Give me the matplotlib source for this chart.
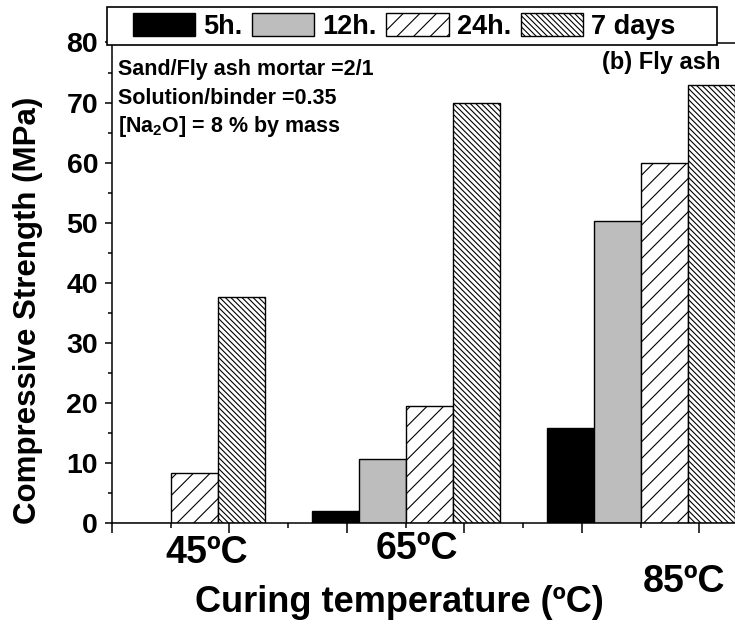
import numpy as np
import matplotlib.pyplot as plt
from matplotlib.patches import Rectangle
from matplotlib.transforms import blended_transform_factory

temps = ["45ºC", "65ºC", "85ºC"]
ages = ["5h.", "12h.", "24h.", "7 days"]
s_5h = [0.0, 2.0, 15.8]
s_12h = [0.0, 10.6, 50.2]
s_24h = [8.4, 19.5, 60.0]
s_7d = [37.6, 70.0, 72.9]
series = [s_5h, s_12h, s_24h, s_7d]

plt.rcParams['font.family'] = ['Liberation Sans', 'DejaVu Sans']
plt.rcParams['font.weight'] = 'bold'
plt.rcParams['mathtext.fontset'] = 'custom'
plt.rcParams['mathtext.rm'] = 'Liberation Sans'
plt.rcParams['mathtext.bf'] = 'Liberation Sans:bold'
plt.rcParams['mathtext.default'] = 'bf'
plt.rcParams['hatch.linewidth'] = 0.8

W, H = 735, 624
fig = plt.figure(figsize=(W / 100, H / 100), dpi=100)
# axes run off the right edge of the picture, like the original crop
ax = fig.add_axes([112 / W, 101 / H, 646 / W, 480.5 / H])

x = np.arange(1, len(temps) + 1)
width = 0.2
colors = ['black', '#bdbdbd', 'white', 'white']
hatches = [None, None, '//', '\\\\\\\\\\\\']

handles = []
for i, vals in enumerate(series):
    b = ax.bar(x + (i - 1.5) * width, vals, width, color=colors[i],
               edgecolor='black', linewidth=1.0, hatch=hatches[i],
               label=ages[i], zorder=2)
    handles.append(b)

ax.set_xlim(0.75, 3.5)
ax.set_ylim(0, 80)
ax.set_xticks(np.arange(0.75, 3.5, 0.5))
ax.set_xticks(np.arange(1.0, 3.5, 0.5), minor=True)
ax.set_xticklabels([])
ax.set_yticks(np.arange(0, 81, 10))
ax.set_yticks(np.arange(5, 80, 10), minor=True)
ax.tick_params(axis='x', which='major', direction='out', length=7.5, width=1.1)
ax.tick_params(axis='x', which='minor', direction='out', length=3.5, width=1.1)
ax.tick_params(axis='y', which='major', direction='out', length=5, width=1.1,
               labelsize=20.5, pad=5)
ax.tick_params(axis='y', which='minor', direction='out', length=3, width=1.1)
for lab in ax.get_yticklabels():
    lab.set_fontweight('bold')
for sp in ax.spines.values():
    sp.set_linewidth(1.1)

# category labels sit a bit off the group centres in the original
trans = blended_transform_factory(ax.transData, fig.transFigure)
lab_dx = [0.154, 0.048, 0.184]
lab_y = [553, 549, 582]
for i, t in enumerate(temps):
    ax.text(x[i] + lab_dx[i], 1 - lab_y[i] / H, t, transform=trans,
            fontsize=27, fontweight='bold', ha='center', va='center',
            clip_on=False)

fig.text(399 / W, 1 - 602 / H, "Curing temperature (ºC)", fontsize=26,
         fontweight='bold', ha='center', va='center')
fig.text(28 / W, 1 - 310 / H, "Compressive Strength (MPa)", fontsize=22.5,
         fontweight='bold', ha='center', va='center', rotation=90)

notes = ["Sand/Fly ash mortar =2/1", "Solution/binder =0.35",
         "[Na$_2$O] = 8 % by mass"]
for k, n in enumerate(notes):
    fig.text(118 / W, 1 - (70 + 28.5 * k) / H, n, fontsize=15.5,
             fontweight='bold', ha='left', va='center')
fig.text(721 / W, 1 - 63 / H, "(b) Fly ash", fontsize=17,
         fontweight='bold', ha='right', va='center')

# legend box is wider than its entries in the original, so draw it apart
box = Rectangle((107 / W, 1 - 45 / H), 610 / W, 38 / H,
                transform=fig.transFigure, facecolor='white',
                edgecolor='black', linewidth=1.2, zorder=4)
fig.patches.append(box)
leg = fig.legend(handles=handles, loc='center left',
                 bbox_to_anchor=(133 / W, 1 - 26.5 / H), ncol=4,
                 fontsize=19.5, handlelength=2.3, handleheight=0.9,
                 handletextpad=0.3, columnspacing=0.35, borderpad=0,
                 borderaxespad=0, frameon=False)
leg.set_zorder(5)
for t in leg.get_texts():
    t.set_fontweight('bold')

fig.savefig("out.png", dpi=100)
